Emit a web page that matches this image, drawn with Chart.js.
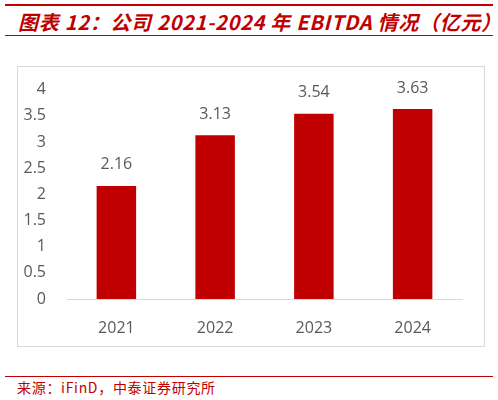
<!DOCTYPE html>
<html>
<head>
<meta charset="utf-8">
<script src="https://cdn.jsdelivr.net/npm/chart.js@4"></script>
<style>
  body { margin: 0; width: 498px; height: 400px; background: #fff; position: relative; overflow: hidden; }
  .rule { position: absolute; left: 5px; width: 488px; background: #c00000; }
  #title { position: absolute; left: 18px; top: 7px; font: italic bold 20px "Noto Sans CJK SC", sans-serif; color: #c00000; white-space: nowrap; letter-spacing: 0.7px; }
  #box { position: absolute; left: 17px; top: 66px; width: 466px; height: 279px; border: 1px solid #d9d9d9; }
  #source { position: absolute; left: 17px; top: 377px; font: 14px "Noto Sans CJK SC", sans-serif; color: #c00000; white-space: nowrap; letter-spacing: 0.7px; }
</style>
</head>
<body>
<div class="rule" style="top:4px;height:2px"></div>
<div id="title">图表 12：公司 2021-2024 年 EBITDA 情况（亿元）</div>
<div class="rule" style="top:35px;height:1px"></div>
<div id="box"><canvas id="ebitdaChart" width="466" height="279"></canvas></div>
<div class="rule" style="top:376px;height:1px"></div>
<div id="source">来源：iFinD，中泰证券研究所</div>
<script>
const years = ["2021", "2022", "2023", "2024"];
const ebitda = [2.16, 3.13, 3.54, 3.63];
const yMin = 0;
const yMax = 4;
const yStep = 0.5;

const valueLabels = {
  id: "valueLabels",
  afterDatasetsDraw(chart) {
    const ctx = chart.ctx;
    const meta = chart.getDatasetMeta(0);
    ctx.save();
    ctx.font = "16px 'Open Sans', sans-serif";
    ctx.fillStyle = "#595959";
    ctx.textAlign = "center";
    ctx.textBaseline = "middle";
    meta.data.forEach((bar, i) => {
      ctx.fillText(ebitda[i].toFixed(2), bar.x, bar.y - 21);
    });
    ctx.restore();
  }
};

new Chart(document.getElementById("ebitdaChart"), {
  type: "bar",
  data: {
    labels: years,
    datasets: [{
      data: ebitda,
      backgroundColor: "#c00000",
      barPercentage: 0.4,
      categoryPercentage: 1.0
    }]
  },
  options: {
    responsive: false,
    animation: false,
    layout: { padding: { top: 21, right: 22, left: 0, bottom: 0 } },
    plugins: { legend: { display: false }, tooltip: { enabled: false } },
    scales: {
      x: {
        grid: { display: false },
        border: { color: "#d9d9d9", width: 1 },
        ticks: { color: "#595959", font: { family: "'Open Sans', sans-serif", size: 16 }, padding: 12 },
        afterFit(scale) { scale.height = 47; }
      },
      y: {
        min: yMin,
        max: yMax,
        grid: { display: false },
        border: { display: false },
        ticks: {
          stepSize: yStep,
          color: "#595959",
          font: { family: "'Open Sans', sans-serif", size: 16 },
          padding: 13,
          callback: (v) => String(v)
        },
        afterFit(scale) { scale.width = 49; }
      }
    }
  },
  plugins: [valueLabels]
});
</script>
</body>
</html>
